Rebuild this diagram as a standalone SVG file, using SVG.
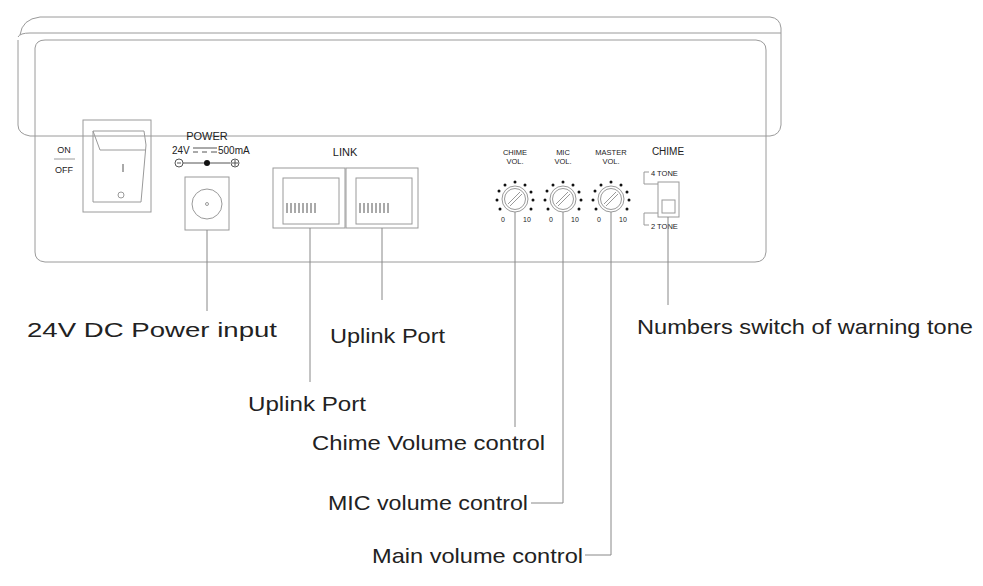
<svg xmlns="http://www.w3.org/2000/svg" width="983" height="586" viewBox="0 0 983 586">
<style>
.o{fill:none;stroke:#9a9a9a;stroke-width:1}
.d{fill:none;stroke:#555;stroke-width:1}
.l{fill:none;stroke:#888;stroke-width:1}
.t{font-family:"Liberation Sans",Arial,sans-serif;fill:#222}
.s{font-size:9px}
.b{font-size:21px}
.dot{fill:#111}
</style>
<rect width="983" height="586" fill="#fff"/>
<g id="housing">
<path class="o" d="M20,35 Q22,19 40,17 L770,17 Q780,18 781,28 L781,125 Q780,135 770,136 L30,136 Q18,134 18,125 L18,40"/>
<path class="o" d="M18,37 Q20,33 30,33 L781,33"/>
<path class="o" d="M35,130 L35,48 Q36,40 45,40 L756,40 Q766,41 766,50 L766,252 Q765,262 755,262 L45,262 Q35,261 35,252 Z"/>
</g>
<g id="switch">
<text class="t s" x="64" y="153" text-anchor="middle">ON</text>
<line class="o" x1="54" y1="159" x2="75" y2="159"/>
<text class="t s" x="64" y="173" text-anchor="middle">OFF</text>
<rect class="o" x="83" y="120" width="68" height="92"/>
<path class="o" d="M93,131 L144,131 L146,145 L141,202 L93,202 Z M93,131 L100,150 L146,150"/>
<line class="d" x1="123" y1="164" x2="123" y2="172"/>
<circle class="o" cx="121" cy="195" r="3"/>
</g>
<g id="power">
<text class="t" x="207" y="140" text-anchor="middle" font-size="11">POWER</text>
<text class="t" x="172" y="154" font-size="10">24V</text>
<path class="d" d="M193,148 L217,148 M193,152 L198,152 M202,152 L207,152 M211,152 L217,152"/>
<text class="t" x="218" y="154" font-size="10">500mA</text>
<circle class="d" cx="179" cy="163" r="4"/><line class="d" x1="177" y1="163" x2="181" y2="163"/>
<line class="d" x1="183" y1="163" x2="230" y2="163"/>
<circle cx="207" cy="163" r="3" fill="#111"/>
<circle cx="235" cy="163" r="4" class="d"/><path class="d" d="M232,163 L238,163 M235,160 L235,166"/>
<rect class="o" x="185" y="177" width="44" height="53"/>
<circle class="o" cx="207" cy="204" r="15"/>
<circle class="o" cx="207" cy="204" r="1.5"/>
</g>
<g id="link">
<text class="t" x="345" y="156" text-anchor="middle" font-size="11">LINK</text>
<rect class="o" x="273" y="168" width="72" height="60"/>
<rect class="o" x="283" y="178" width="56" height="46"/>
<rect class="o" x="346" y="168" width="72" height="60"/>
<rect class="o" x="356" y="178" width="56" height="46"/>
<path class="d" d="M287,203 v10 M291,203 v10 M295,203 v10 M299,203 v10 M303,203 v10 M307,203 v10 M311,203 v10 M315,203 v10"/>
<path class="d" d="M360,203 v10 M364,203 v10 M368,203 v10 M372,203 v10 M376,203 v10 M380,203 v10 M384,203 v10 M388,203 v10"/>
</g>
<g id="knobs">
<text class="t" x="515" y="155" text-anchor="middle" font-size="7.5">CHIME</text>
<text class="t" x="515" y="164" text-anchor="middle" font-size="7.5">VOL.</text>
<text class="t" x="563" y="155" text-anchor="middle" font-size="7.5">MIC</text>
<text class="t" x="563" y="164" text-anchor="middle" font-size="7.5">VOL.</text>
<text class="t" x="611" y="155" text-anchor="middle" font-size="7.5">MASTER</text>
<text class="t" x="611" y="164" text-anchor="middle" font-size="7.5">VOL.</text>
<g id="k1" transform="translate(515,199)">
<circle class="o" r="13"/><circle class="o" r="10.5"/><path class="o" d="M-7,5 L5,-7 M-5,7 L7,-5"/>
<circle class="dot" cx="-16" cy="-8" r="1.5"/><circle class="dot" cx="-18" cy="1" r="1.5"/><circle class="dot" cx="-15" cy="10" r="1.5"/>
<circle class="dot" cx="-10" cy="-14" r="1.5"/><circle class="dot" cx="0" cy="-17" r="1.5"/><circle class="dot" cx="10" cy="-14" r="1.5"/>
<circle class="dot" cx="16" cy="-7" r="1.5"/><circle class="dot" cx="18" cy="1" r="1.5"/><circle class="dot" cx="16" cy="10" r="1.5"/>
<text class="t" x="-12" y="23" font-size="7" text-anchor="middle">0</text><text class="t" x="12" y="23" font-size="7" text-anchor="middle">10</text>
</g>
<use href="#k1" x="48"/>
<use href="#k1" x="96"/>
</g>
<g id="chime">
<text class="t" x="668" y="155" text-anchor="middle" font-size="10">CHIME</text>
<text class="t" x="651" y="176" font-size="7.5">4 TONE</text>
<text class="t" x="651" y="229" font-size="7.5">2 TONE</text>
<path class="o" d="M649,172 L644,172 L644,184 L658,184 M649,225 L644,225 L644,213 L658,213"/>
<rect class="o" x="658" y="182" width="21" height="35"/>
<rect class="o" x="662" y="200" width="13" height="13"/>
</g>
<g id="connectors" class="l">
<line x1="207" y1="230" x2="207" y2="311"/>
<line x1="310" y1="228" x2="310" y2="382"/>
<line x1="382" y1="228" x2="382" y2="300"/>
<polyline points="515,212 515,427"/>
<polyline points="563,212 563,503 531,503"/>
<polyline points="611,212 611,555 585,555"/>
<line x1="668" y1="217" x2="668" y2="305"/>
</g>
<g id="labels" class="t b">
<text x="27" y="337" textLength="250" lengthAdjust="spacingAndGlyphs">24V DC Power input</text>
<text x="330" y="343" textLength="115" lengthAdjust="spacingAndGlyphs">Uplink Port</text>
<text x="248" y="411" textLength="118" lengthAdjust="spacingAndGlyphs">Uplink Port</text>
<text x="312" y="450" textLength="233" lengthAdjust="spacingAndGlyphs">Chime Volume control</text>
<text x="328" y="510" textLength="200" lengthAdjust="spacingAndGlyphs">MIC volume control</text>
<text x="372" y="563" textLength="211" lengthAdjust="spacingAndGlyphs">Main volume control</text>
<text x="637" y="334" textLength="336" lengthAdjust="spacingAndGlyphs">Numbers switch of warning tone</text>
</g>
</svg>
